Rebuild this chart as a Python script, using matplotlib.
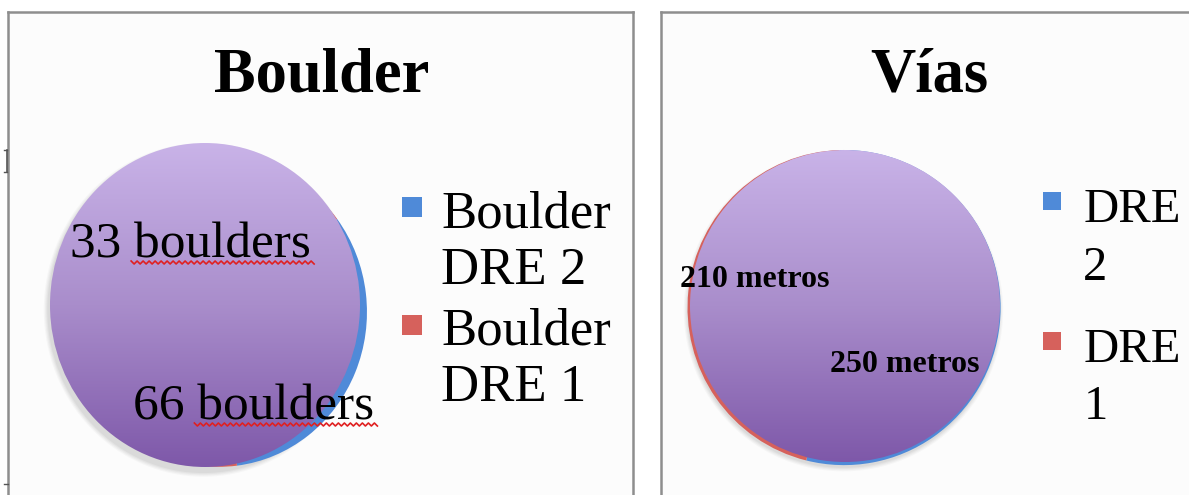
import numpy as np
import matplotlib
matplotlib.use("Agg")
import matplotlib.pyplot as plt
from matplotlib.patches import Ellipse, Rectangle
from matplotlib.legend_handler import HandlerPatch
from matplotlib.colors import LinearSegmentedColormap
from matplotlib.transforms import IdentityTransform

# ---- data ----
boulder_title = "Boulder"
boulder_labels = ["Boulder\nDRE 2", "Boulder\nDRE 1"]
boulder_values = [33, 66]
boulder_texts = ["33 boulders", "66 boulders"]

vias_title = "Vías"
vias_labels = ["DRE\n2", "DRE\n1"]
vias_values = [250, 210]
vias_texts = ["210 metros", "250 metros"]

slice_colors = ["#4F8AD8", "#D6615C"]

W, H = 1189, 495
fig = plt.figure(figsize=(W / 100, H / 100), dpi=100)
fig.patch.set_facecolor("white")
SERIF = ["Liberation Serif", "DejaVu Serif"]


def box(x0, y0, x1, y1):
    return [x0 / W, 1 - y1 / H, (x1 - x0) / W, (y1 - y0) / H]


def fx(x):
    return x / W


def fy(y):
    return 1 - y / H


# panel backgrounds
for b in [box(8, 12, 633, 520), box(661, 12, 1220, 520)]:
    axb = fig.add_axes(b, zorder=0)
    axb.set_facecolor("#FCFCFC")
    axb.set_xticks([]); axb.set_yticks([])
    for s in axb.spines.values():
        s.set_color("#8E8E8E"); s.set_linewidth(1.8)

# stray page marks on left margin
fig.add_artist(plt.Line2D([fx(7), fx(7)], [fy(150), fy(172)], color="#555555", lw=1.2))
fig.add_artist(plt.Line2D([fx(4), fx(7)], [fy(150), fy(150)], color="#555555", lw=1.0))
fig.add_artist(plt.Line2D([fx(4), fx(7)], [fy(172), fy(172)], color="#555555", lw=1.0))
fig.add_artist(plt.Line2D([fx(4), fx(8)], [fy(484), fy(484)], color="#555555", lw=1.0))

purple = LinearSegmentedColormap.from_list("pp", ["#7E58A9", "#A98DCB", "#C9B3E8"])


class TopHandler(HandlerPatch):
    def __init__(self, shift, **kw):
        super().__init__(**kw)
        self.shift = shift

    def create_artists(self, legend, orig_handle, xdescent, ydescent, width,
                       height, fontsize, trans):
        side = 0.38 * fontsize
        r = Rectangle((-xdescent, -ydescent + self.shift * fontsize), side, side,
                      facecolor=orig_handle.get_facecolor(), edgecolor="none",
                      transform=trans)
        return [r]


label_artists = []


def draw_pie(cx, cy, rx, ry, values, startangle, counter, off, rscale, labels,
             texts, text_pos, text_size, text_weight, leg_xy, leg_size, shift,
             lspace, lblspace, tpad):
    pad = 1.25
    ax = fig.add_axes(box(cx - rx * pad, cy - ry * pad, cx + rx * pad, cy + ry * pad), zorder=2)
    ax.set_facecolor("none")
    for k, a in enumerate([0.04, 0.05, 0.06, 0.07]):
        e = Ellipse((-0.01, -0.03), 2 + 0.06 - k * 0.015, 2 + 0.06 - k * 0.015,
                    facecolor="#606060", edgecolor="none", alpha=a, zorder=0)
        ax.add_patch(e)
    wedges, _ = ax.pie(values, colors=slice_colors, startangle=startangle,
                       counterclock=counter, center=off, radius=rscale,
                       wedgeprops=dict(edgecolor="none", zorder=1))
    ax.set_aspect("auto")
    ax.axis("off")
    grad = np.linspace(0, 1, 256).reshape(-1, 1)
    im = ax.imshow(grad, cmap=purple, extent=(-1, 1, -1, 1), origin="lower",
                   aspect="auto", zorder=2)
    clip = Ellipse((0, 0), 2, 2, transform=ax.transData, facecolor="none", edgecolor="none")
    ax.add_patch(clip)
    im.set_clip_path(clip)
    ax.set_xlim(-pad, pad); ax.set_ylim(-pad, pad)
    for t, (px, py) in zip(texts, text_pos):
        ta = fig.text(fx(px), fy(py), t, fontsize=text_size, family=SERIF,
                      fontweight=text_weight, ha="left", va="baseline", zorder=5)
        label_artists.append(ta)
    leg = ax.legend(wedges, labels, loc="upper left",
                    bbox_to_anchor=(fx(leg_xy[0]), fy(leg_xy[1])),
                    bbox_transform=fig.transFigure, frameon=False,
                    prop=dict(family=SERIF, size=leg_size),
                    handlelength=0.38, handleheight=0.38, handletextpad=tpad,
                    labelspacing=lblspace, borderpad=0, borderaxespad=0,
                    handler_map={matplotlib.patches.Wedge: TopHandler(shift)})
    for t in leg.get_texts():
        t.set_linespacing(lspace)
    return ax


draw_pie(205, 305, 155, 162, boulder_values, 37, False,
         (0.1 * np.cos(np.radians(-26)), 0.1 * np.sin(np.radians(-26))), 0.955,
         boulder_labels, boulder_texts, [(70, 258), (133, 420)], 37, "normal",
         (402, 190), 38, 0.72, 1.24, 0.24, 0.36)
draw_pie(845, 306, 155, 156, vias_values, -104, True, (-0.006, -0.01), 1.01,
         vias_labels, vias_texts, [(680, 287), (830, 372)], 23, "bold",
         (1043, 188), 35, 0.82, 1.4, 0.78, 0.45)

fig.text(fx(322), fy(92), boulder_title, fontsize=45, family=SERIF,
         fontweight="bold", ha="center", va="baseline")
fig.text(fx(929), fy(92), vias_title, fontsize=45, family=SERIF,
         fontweight="bold", ha="center", va="baseline")

# spell-check squiggles under "boulders"
fig.canvas.draw()
renderer = fig.canvas.get_renderer()
for ta in label_artists[:2]:
    s = ta.get_text()
    prop = ta.get_fontproperties()
    w_pre = renderer.get_text_width_height_descent(s.split(" ")[0] + " b", prop, ismath=False)[0] \
        - renderer.get_text_width_height_descent("b", prop, ismath=False)[0]
    bb = ta.get_window_extent(renderer)
    _, _, d_lp = renderer.get_text_width_height_descent("lp", prop, ismath=False)
    base = bb.y0 + d_lp
    x0, x1 = bb.x0 + w_pre - 3, bb.x1 + 4
    xs = np.arange(x0, x1, 3.0)
    ys = base - 4.5 + np.where(np.arange(len(xs)) % 2 == 0, 1.5, -1.5)
    fig.add_artist(plt.Line2D(xs, ys, color="#E02020", lw=1.2,
                              transform=IdentityTransform(), zorder=6))

fig.savefig("out.png", dpi=100)
